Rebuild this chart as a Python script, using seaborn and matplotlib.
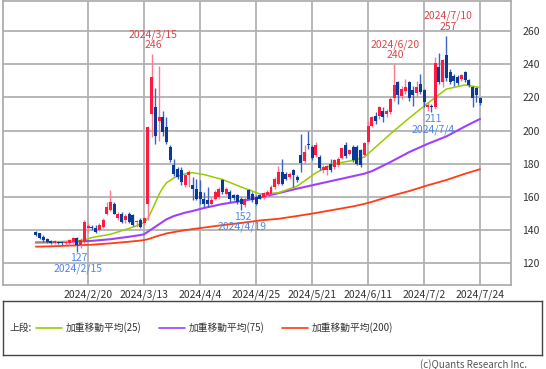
import matplotlib
matplotlib.use("Agg")
import matplotlib.pyplot as plt
import seaborn as sns
import pandas as pd
import numpy as np
from matplotlib.lines import Line2D

# ---------------- data ----------------
dates = [
    "2024/1/30", "2024/1/31", "2024/2/1", "2024/2/2", "2024/2/5", "2024/2/6", "2024/2/7", "2024/2/8",
    "2024/2/9", "2024/2/13", "2024/2/14", "2024/2/15", "2024/2/16", "2024/2/19", "2024/2/20", "2024/2/21",
    "2024/2/22", "2024/2/26", "2024/2/27", "2024/2/28", "2024/2/29", "2024/3/1", "2024/3/4", "2024/3/5",
    "2024/3/6", "2024/3/7", "2024/3/8", "2024/3/11", "2024/3/12", "2024/3/13", "2024/3/14", "2024/3/15",
    "2024/3/18", "2024/3/19", "2024/3/21", "2024/3/22", "2024/3/25", "2024/3/26", "2024/3/27", "2024/3/28",
    "2024/3/29", "2024/4/1", "2024/4/2", "2024/4/3", "2024/4/4", "2024/4/5", "2024/4/8", "2024/4/9",
    "2024/4/10", "2024/4/11", "2024/4/12", "2024/4/15", "2024/4/16", "2024/4/17", "2024/4/18", "2024/4/19",
    "2024/4/22", "2024/4/23", "2024/4/24", "2024/4/25", "2024/4/26", "2024/4/30", "2024/5/1", "2024/5/2",
    "2024/5/7", "2024/5/8", "2024/5/9", "2024/5/10", "2024/5/13", "2024/5/14", "2024/5/15", "2024/5/16",
    "2024/5/17", "2024/5/20", "2024/5/21", "2024/5/22", "2024/5/23", "2024/5/24", "2024/5/27", "2024/5/28",
    "2024/5/29", "2024/5/30", "2024/5/31", "2024/6/3", "2024/6/4", "2024/6/5", "2024/6/6", "2024/6/7",
    "2024/6/10", "2024/6/11", "2024/6/12", "2024/6/13", "2024/6/14", "2024/6/17", "2024/6/18", "2024/6/19",
    "2024/6/20", "2024/6/21", "2024/6/24", "2024/6/25", "2024/6/26", "2024/6/27", "2024/6/28", "2024/7/1",
    "2024/7/2", "2024/7/3", "2024/7/4", "2024/7/5", "2024/7/8", "2024/7/9", "2024/7/10", "2024/7/11",
    "2024/7/12", "2024/7/16", "2024/7/17", "2024/7/18", "2024/7/19", "2024/7/22", "2024/7/23", "2024/7/24",
]

opens = [
    139, 138, 136, 134.5, 133.5, 132.5, 133, 132.5, 132, 132, 133, 135.5, 131, 133, 141, 142,
    141.5, 140, 142, 150, 152, 156, 147, 150, 146, 150, 149, 145, 146, 144, 156, 210,
    214, 206, 208, 202, 190, 179, 177, 176, 167, 173, 167, 165, 163, 159, 158, 156,
    159, 160, 170, 162, 163, 161, 161, 159, 155, 164, 162, 160, 161, 160, 161, 162,
    166, 168, 175, 174, 172, 176.5, 172, 185, 181.5, 191.5, 190, 185, 184, 176, 176, 180,
    178, 179, 183.5, 191, 186, 190, 190, 188, 185, 193, 203, 208.5, 209, 212, 210, 211,
    219.5, 229.5, 221, 224, 229.5, 224.5, 222.5, 228, 224.5, 214, 215, 214, 238.5, 229.5, 245.5, 235.5,
    233, 232.5, 231, 235, 230.5, 226.5, 225.5, 219.5,
]
highs = [
    139.5, 138.5, 137, 135, 134, 134, 133.5, 133.5, 133, 134.5, 136, 136, 135, 146, 144, 143,
    143, 144, 147, 157, 164, 157, 151, 151, 150, 151, 150, 146, 147, 148, 203, 246,
    225.5, 239, 212, 208, 191, 183, 178, 178, 174, 176.5, 172, 171, 170, 163, 166, 160,
    164, 166, 171, 166, 164, 162, 162, 160, 160, 165, 163, 161, 162, 163, 164, 167,
    172, 178.7, 183, 175, 175, 177, 173, 198, 191, 200, 191, 193, 185, 179, 179, 183,
    183, 184, 190, 193, 189, 191, 191, 189, 193, 206, 209, 211, 215, 214, 213, 220,
    240, 230, 227, 231, 230, 227, 230, 234, 225, 217, 216, 244.5, 246.5, 243, 257, 237,
    234, 233.5, 234, 236, 231, 227, 226, 220.5,
]
lows = [
    136.5, 134.5, 133, 132, 131.5, 131.5, 131.5, 131, 131, 131, 131.5, 127, 129, 132.5, 139, 140,
    138, 139.5, 141.5, 149, 151.5, 149.5, 146, 144.5, 144, 144.5, 142.5, 142, 141.5, 143, 146, 196,
    192, 194, 197, 192, 181, 172.5, 171, 167, 166, 166, 158, 158, 156, 154, 154, 155,
    158, 159, 162, 161, 157, 158, 156, 152, 154, 158.5, 157, 155, 158.5, 159, 160, 161.5,
    165, 167, 167, 170, 171, 166, 169, 175, 180, 189, 182, 184, 176, 174.5, 173, 175,
    177, 178, 183, 183.5, 185, 181, 179, 178, 184, 192, 202, 204, 207, 205, 208, 210,
    218, 216, 219, 222, 218, 215, 220, 222, 214, 212, 211, 213, 228, 226.5, 230, 228,
    227, 227.5, 230, 229.5, 226, 214, 217, 215.5,
]
closes = [
    137, 135, 134, 133, 132.5, 133, 132, 132, 132.5, 134, 135, 131, 134, 145, 142.5, 141,
    139, 143, 146, 154, 157, 150, 150, 145, 148.5, 145, 143, 145.5, 142, 147, 202, 232,
    197, 208, 199, 193, 182, 174, 172, 169, 173, 175, 164.5, 159, 159, 156, 156, 158,
    163, 164.5, 163, 165, 159, 159.5, 157, 156, 159, 159, 158, 156, 159, 162.5, 163, 166,
    171, 175, 168, 171, 174, 173, 170, 180.5, 187, 191, 183.5, 191, 177.5, 178, 178.5, 176.5,
    182.5, 183, 189.5, 184.5, 188, 182, 180, 179.5, 192.5, 203, 208, 205.5, 214, 208, 212, 219,
    227.5, 221.5, 225, 226.5, 219.5, 221.5, 226.5, 223, 217, 215.5, 214, 240.5, 229.5, 242.5, 231.5, 229.5,
    230, 228.5, 233.5, 230.5, 227.5, 219.5, 221.5, 216.5,
]

ma_dates = [
    "2024/1/30", "2024/2/6", "2024/2/14", "2024/2/19", "2024/2/21", "2024/2/29", "2024/3/7",
    "2024/3/12", "2024/3/13", "2024/3/14", "2024/3/15", "2024/3/18", "2024/3/19", "2024/3/21",
    "2024/3/22", "2024/3/26", "2024/3/29", "2024/4/2", "2024/4/5", "2024/4/12", "2024/4/19",
    "2024/4/26", "2024/5/8", "2024/5/15", "2024/5/22", "2024/5/29", "2024/6/5", "2024/6/10",
    "2024/6/12", "2024/6/19", "2024/6/26", "2024/7/3", "2024/7/10", "2024/7/18", "2024/7/24",
]
wma25 = [
    133.0, 133.0, 133.2, 134.0, 135.5, 137.5, 141.0, 143.5, 144.5, 147.0, 151.5, 156.5, 161.5, 165.5,
    168.5, 171.5, 174.0, 174.6, 173.5, 170.5, 166.0, 161.8, 162.5, 166.5, 174.5, 180.0, 182.0, 184.0,
    188.0, 198.0, 207.5, 216.5, 225.0, 227.5, 226.0,
]
wma75 = [
    132.5, 132.7, 133.0, 133.3, 133.5, 134.5, 136.0, 137.0, 137.5, 139.0, 140.5, 142.0, 143.5, 145.0,
    146.5, 148.5, 150.5, 151.5, 153.3, 155.7, 157.5, 159.5, 162.3, 165.0, 167.5, 170.0, 172.5, 174.0,
    175.5, 181.0, 187.0, 192.0, 196.5, 202.5, 207.0,
]
wma200 = [
    130.0, 130.3, 130.7, 131.0, 131.2, 132.0, 133.0, 133.7, 134.0, 134.5, 135.2, 136.0, 136.7, 137.3,
    138.0, 138.8, 140.0, 140.6, 141.5, 143.0, 144.3, 145.8, 146.8, 148.5, 150.3, 152.3, 154.3, 155.8,
    157.0, 160.5, 163.5, 167.0, 170.2, 174.0, 176.7,
]

tick_labels = ["2024/2/20", "2024/3/13", "2024/4/4", "2024/4/25",
               "2024/5/21", "2024/6/11", "2024/7/2", "2024/7/24"]
y_ticks = [120, 140, 160, 180, 200, 220, 240, 260]

high_marks = [("2024/3/15", 246), ("2024/6/20", 240), ("2024/7/10", 257)]
low_marks = [("2024/2/15", 127), ("2024/4/19", 152), ("2024/7/4", 211)]

legend_labels = ["加重移動平均(25)", "加重移動平均(75)", "加重移動平均(200)"]
legend_prefix = "上段:"
copyright_text = "(c)Quants Research Inc."

# ---------------- style ----------------
sns.set_style("white")
plt.rcParams["font.family"] = ["Noto Sans CJK JP", "DejaVu Sans"]

UP_BODY, UP_WICK = "#ff1a3f", "#ff7890"
DN_BODY, DN_WICK = "#0b3a96", "#3a63c4"
MA_COLORS = ["#99cc00", "#a040ff", "#ff3c14"]
GRID = "#b2b2b2"
TXT = "#333333"

W, H = 546, 369
fig = plt.figure(figsize=(W / 100, H / 100), dpi=100)
fig.patch.set_facecolor("white")

ax = fig.add_axes([3 / W, 1 - 285 / H, 508 / W, 284 / H])

df = pd.DataFrame({"date": dates, "open": opens, "high": highs, "low": lows, "close": closes})
df["pos"] = np.arange(len(df))
pos_of = {d: i for i, d in enumerate(dates)}

# moving averages (seaborn)
ma_df = pd.DataFrame({"pos": [pos_of[d] for d in ma_dates],
                      "w25": wma25, "w75": wma75, "w200": wma200})
for col, c, lw in zip(["w200", "w75", "w25"], [MA_COLORS[2], MA_COLORS[1], MA_COLORS[0]], [1.3, 1.5, 1.1]):
    sns.lineplot(data=ma_df, x="pos", y=col, ax=ax, color=c, lw=lw, zorder=2, legend=False)

# candles
up = df["close"] >= df["open"]
wick_c = np.where(up, UP_WICK, DN_WICK)
body_c = np.where(up, UP_BODY, DN_BODY)
ax.vlines(df["pos"], df["low"], df["high"], colors=wick_c, lw=1.0, zorder=3)
bottoms = np.minimum(df["open"], df["close"])
heights = np.maximum(np.abs(df["close"] - df["open"]), 0.7)
ax.bar(df["pos"], heights, bottom=bottoms, width=0.8, color=body_c, linewidth=0, zorder=4)

# annotations
for d, v in high_marks:
    ax.annotate(f"{d}\n{v}", xy=(pos_of[d], v), xytext=(1, 3), textcoords="offset points",
                ha="center", va="bottom", fontsize=7.5, color="#d9474b", linespacing=1.05, zorder=6)
for d, v in low_marks:
    ax.annotate(f"{v}\n{d}", xy=(pos_of[d], v), xytext=(1, -1), textcoords="offset points",
                ha="center", va="top", fontsize=7.5, color="#4f86e6", linespacing=1.05, zorder=6)

# axes
ax.set_xlim(-8.8, 127.3)
ax.set_ylim(106.9, 278.1)
ax.set_xticks([pos_of[t] for t in tick_labels])
ax.set_xticklabels(tick_labels)
ax.set_yticks(y_ticks)
ax.yaxis.tick_right()
ax.set_xlabel("")
ax.set_ylabel("")
ax.tick_params(axis="x", length=0, pad=3, labelsize=7.5, labelcolor=TXT)
ax.tick_params(axis="y", length=0, pad=8, labelsize=7.5, labelcolor=TXT)
ax.grid(True, color=GRID, lw=1.3)
ax.set_axisbelow(True)
for s in ax.spines.values():
    s.set_visible(True)
    s.set_color("#a8a8a8")
    s.set_linewidth(1.2)

# legend box
lax = fig.add_axes([3 / W, 1 - 355 / H, 539 / W, 54 / H])
lax.set_xlim(0, 539)
lax.set_ylim(0, 1)
lax.set_xticks([])
lax.set_yticks([])
for s in lax.spines.values():
    s.set_visible(True)
    s.set_color("#444444")
    s.set_linewidth(1.0)
lax.text(6, 0.5, legend_prefix, ha="left", va="center", fontsize=7, color=TXT)
line_x = [(33, 59), (156, 182), (279, 305)]
for (x0, x1), lab, c in zip(line_x, legend_labels, MA_COLORS):
    lax.add_line(Line2D([x0, x1], [0.5, 0.5], color=c, lw=1.2))
    lax.text(x1 + 4, 0.5, lab, ha="left", va="center", fontsize=7, color=TXT)

fig.text(527 / W, 1 - 365 / H, copyright_text, ha="right", va="center", fontsize=7, color="#555555")

fig.savefig("out.png", dpi=100, facecolor="white")
